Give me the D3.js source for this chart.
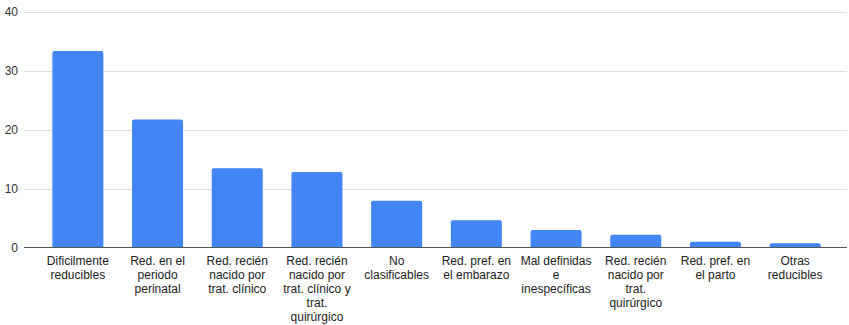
<!DOCTYPE html>
<html>
<head>
<meta charset="utf-8">
<script src="https://cdn.jsdelivr.net/npm/d3@7"></script>
<style>
  html, body { margin: 0; padding: 0; background: #fff; }
  svg { display: block; font-family: "Liberation Sans", Arial, sans-serif; }
</style>
</head>
<body>
<svg id="chart" width="849" height="325"></svg>
<script>
// Causas de muerte: categorías y valores
const categories = [
  "Dificilmente reducibles",
  "Red. en el periodo perinatal",
  "Red. recién nacido por trat. clínico",
  "Red. recién nacido por trat. clínico y trat. quirúrgico",
  "No clasificables",
  "Red. pref. en el embarazo",
  "Mal definidas e inespecíficas",
  "Red. recién nacido por trat. quirúrgico",
  "Red. pref. en el parto",
  "Otras reducibles"
];
const values = [33.4, 21.8, 13.5, 12.9, 8.0, 4.7, 3.05, 2.25, 1.07, 0.8];
// Etiquetas del eje horizontal, línea por línea
const tickLabels = [
  ["Dificilmente", "reducibles"],
  ["Red. en el", "periodo", "perinatal"],
  ["Red. recién", "nacido por", "trat. clínico"],
  ["Red. recién", "nacido por", "trat. clínico y", "trat.", "quirúrgico"],
  ["No", "clasificables"],
  ["Red. pref. en", "el embarazo"],
  ["Mal definidas", "e", "inespecíficas"],
  ["Red. recién", "nacido por", "trat.", "quirúrgico"],
  ["Red. pref. en", "el parto"],
  ["Otras", "reducibles"]
];
const yTicks = [0, 10, 20, 30, 40];

const svg = d3.select("#chart");
const gridLeft = 24, gridRight = 847;

const x = d3.scaleBand()
  .domain(categories)
  .range([38, 835])
  .paddingInner(0.36)
  .paddingOuter(0.18);

const y = d3.scaleLinear().domain([0, 40]).range([248, 12]);

// Líneas de cuadrícula
svg.append("g")
  .selectAll("line")
  .data(yTicks.filter(d => d !== 0))
  .join("line")
  .attr("x1", gridLeft).attr("x2", gridRight)
  .attr("y1", d => Math.round(y(d)) + 0.5)
  .attr("y2", d => Math.round(y(d)) + 0.5)
  .attr("stroke", "#dcdcdc")
  .attr("stroke-width", 1);

// Etiquetas del eje vertical
svg.append("g")
  .selectAll("text")
  .data(yTicks)
  .join("text")
  .attr("x", 18)
  .attr("y", d => y(d))
  .attr("dy", "0.35em")
  .attr("text-anchor", "end")
  .attr("font-size", 12)
  .attr("fill", "#333")
  .text(d => d);

// Barras con esquinas superiores redondeadas
const r = 2;
function barPath(d, i) {
  const x0 = x(categories[i]), w = x.bandwidth();
  const top = y(d), bottom = y(0);
  return `M${x0},${bottom}V${top + r}Q${x0},${top} ${x0 + r},${top}` +
         `H${x0 + w - r}Q${x0 + w},${top} ${x0 + w},${top + r}V${bottom}Z`;
}
svg.append("g")
  .selectAll("path")
  .data(values)
  .join("path")
  .attr("d", barPath)
  .attr("fill", "#4285f4");

// Línea base
svg.append("line")
  .attr("x1", gridLeft).attr("x2", gridRight)
  .attr("y1", y(0) - 0.5).attr("y2", y(0) - 0.5)
  .attr("stroke", "#555")
  .attr("stroke-width", 1);

// Etiquetas del eje horizontal
const labels = svg.append("g")
  .selectAll("text")
  .data(categories)
  .join("text")
  .attr("text-anchor", "middle")
  .attr("font-size", 12)
  .attr("fill", "#222")
  .attr("transform", d => `translate(${x(d) + x.bandwidth() / 2},265)`);

labels.selectAll("tspan")
  .data((d, i) => tickLabels[i])
  .join("tspan")
  .attr("x", 0)
  .attr("y", (d, j) => j * 14)
  .text(d => d);
</script>
</body>
</html>
